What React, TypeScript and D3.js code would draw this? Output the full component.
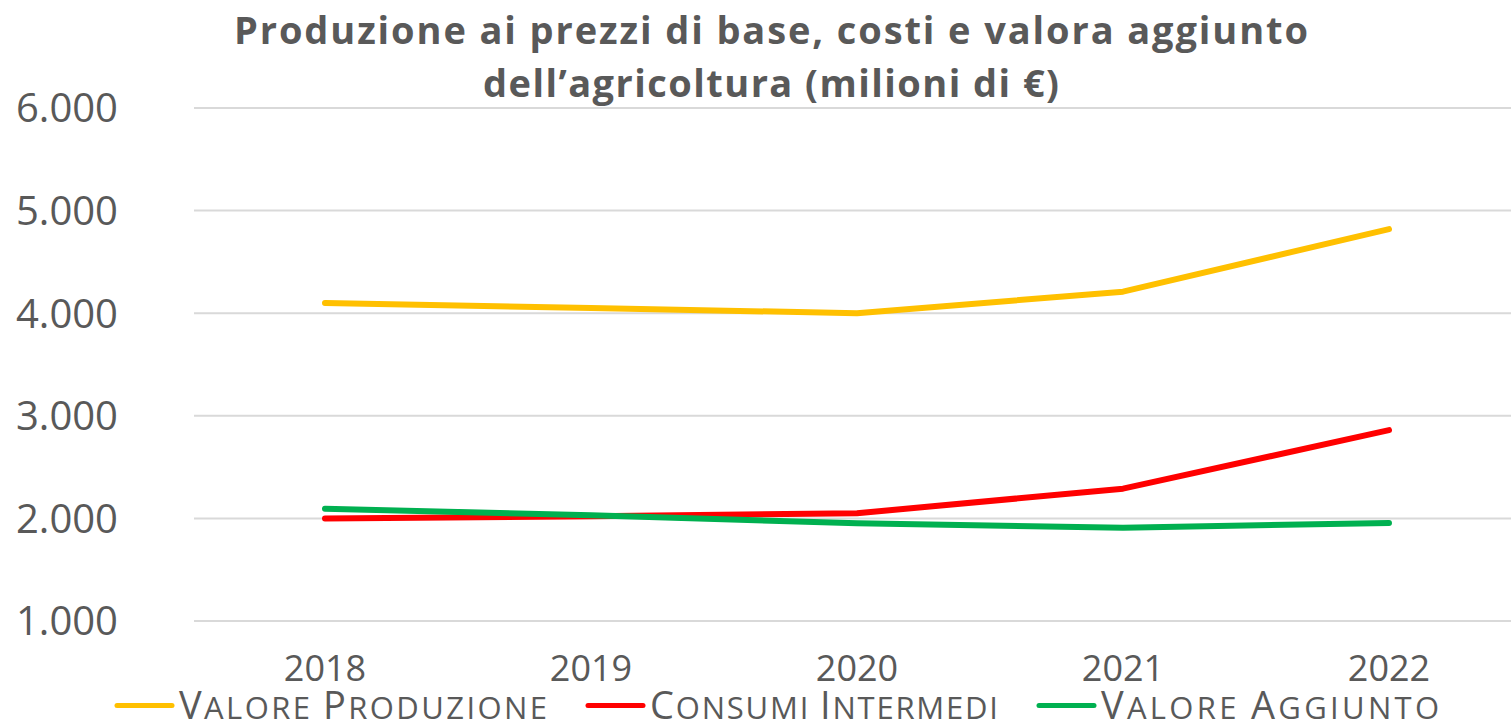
import React, { useEffect, useRef } from "react";
import * as d3 from "d3";

const years = ["2018", "2019", "2020", "2021", "2022"];
const valoreProduzione = [4100, 4050, 4000, 4210, 4820];
const consumiIntermedi = [2000, 2020, 2050, 2290, 2860];
const valoreAggiunto = [2095, 2030, 1952, 1910, 1955];
const yTicks = [1000, 2000, 3000, 4000, 5000, 6000];
const seriesNames = ["Valore Produzione", "Consumi Intermedi", "Valore Aggiunto"];
const seriesColors = ["#FFC000", "#FF0000", "#00B050"];
const titleLines = [
  "Produzione ai prezzi di base, costi e valora aggiunto",
  "dell\u2019agricoltura (milioni di \u20AC)",
];

const W = 1511;
const H = 724;
const FONT = "'Open Sans', 'DejaVu Sans', sans-serif";

export default function App() {
  const ref = useRef<SVGSVGElement>(null);

  useEffect(() => {
    const svg = d3.select(ref.current);
    svg.selectAll("*").remove();

    const x = d3.scalePoint<string>().domain(years).range([325, 1389]);
    const y = d3.scaleLinear().domain([1000, 6000]).range([621, 108]);

    // gridlines
    svg
      .append("g")
      .selectAll("line")
      .data(yTicks)
      .join("line")
      .attr("x1", 194)
      .attr("x2", W)
      .attr("y1", (d) => y(d))
      .attr("y2", (d) => y(d))
      .attr("stroke", "#D9D9D9")
      .attr("stroke-width", 2);

    // y labels
    const fmt = (v: number) => d3.format(",")(v).replace(/,/g, ".");
    svg
      .append("g")
      .selectAll("text")
      .data(yTicks)
      .join("text")
      .attr("x", 118)
      .attr("y", (d) => y(d))
      .attr("dy", "0.36em")
      .attr("text-anchor", "end")
      .attr("font-family", FONT)
      .attr("font-size", 40)
      .attr("fill", "#595959")
      .text((d) => fmt(d));

    // x labels
    svg
      .append("g")
      .selectAll("text")
      .data(years)
      .join("text")
      .attr("x", (d) => x(d)!)
      .attr("y", 681)
      .attr("text-anchor", "middle")
      .attr("font-family", FONT)
      .attr("font-size", 36)
      .attr("fill", "#595959")
      .text((d) => d);

    // lines
    const data = [valoreProduzione, consumiIntermedi, valoreAggiunto];
    const line = d3
      .line<number>()
      .x((_, i) => x(years[i])!)
      .y((d) => y(d));
    data.forEach((s, i) => {
      svg
        .append("path")
        .attr("d", line(s)!)
        .attr("fill", "none")
        .attr("stroke", seriesColors[i])
        .attr("stroke-width", 6)
        .attr("stroke-linecap", "round")
        .attr("stroke-linejoin", "round");
    });

    // title
    const titleWidths = [1074, 576];
    svg
      .append("g")
      .selectAll("text")
      .data(titleLines)
      .join("text")
      .attr("x", 771)
      .attr("y", (_, i) => 44 + i * 53)
      .attr("text-anchor", "middle")
      .attr("font-family", FONT)
      .attr("font-weight", "bold")
      .attr("font-size", 38)
      .attr("fill", "#595959")
      .attr("textLength", (_, i) => titleWidths[i])
      .attr("lengthAdjust", "spacing")
      .text((d) => d);

    // legend
    const legendX = [117, 588, 1039];
    const legendTextW = [368, 348, 338];
    const lg = svg.append("g");
    seriesNames.forEach((n, i) => {
      lg.append("line")
        .attr("x1", legendX[i])
        .attr("x2", legendX[i] + 55)
        .attr("y1", 705.5)
        .attr("y2", 705.5)
        .attr("stroke", seriesColors[i])
        .attr("stroke-width", 5)
        .attr("stroke-linecap", "round");
      const t = lg
        .append("text")
        .attr("x", legendX[i] + 62)
        .attr("y", 719)
        .attr("font-family", FONT)
        .attr("fill", "#595959")
        .attr("textLength", legendTextW[i])
        .attr("lengthAdjust", "spacing");
      n.split(" ").forEach((word, wi) => {
        if (wi > 0) t.append("tspan").attr("font-size", 31).text(" ");
        t.append("tspan").attr("font-size", 38).text(word[0].toUpperCase());
        t.append("tspan").attr("font-size", 31).text(word.slice(1).toUpperCase());
      });
    });
  }, []);

  return (
    <svg
      ref={ref}
      width={W}
      height={H}
      style={{ position: "absolute", left: 0, top: 0, background: "#fff" }}
    />
  );
}
